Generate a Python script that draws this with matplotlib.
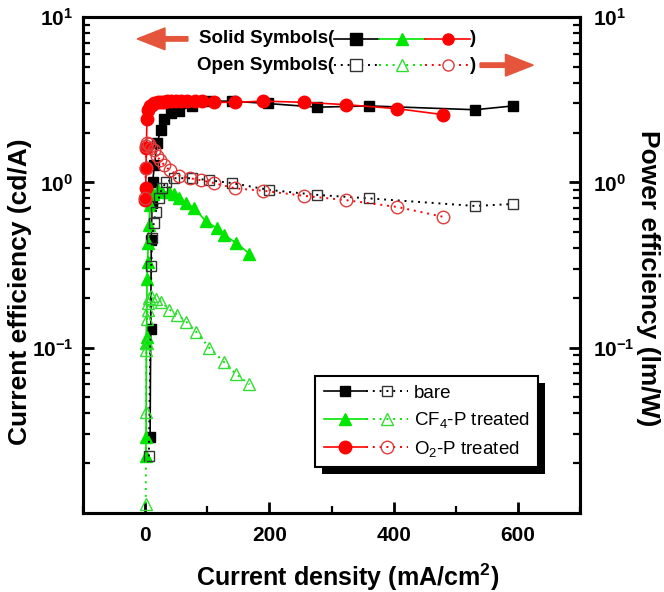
import numpy as np
import matplotlib
matplotlib.use('Agg')
import matplotlib.pyplot as plt
import matplotlib.patheffects as pe
from matplotlib.patches import FancyArrow
from matplotlib.legend_handler import HandlerTuple
from matplotlib.ticker import MultipleLocator, LogLocator, NullFormatter

plt.rcParams['font.family'] = 'Liberation Sans'
plt.rcParams['mathtext.fontset'] = 'custom'
plt.rcParams['mathtext.rm'] = 'Liberation Sans'
plt.rcParams['mathtext.bf'] = 'Liberation Sans:bold'
plt.rcParams['mathtext.it'] = 'Liberation Sans:italic'

# --- data ---
# bare ITO
bare_j_ce = [8, 9, 10, 11, 12, 15, 19, 25, 31, 42, 55, 75, 100, 140, 197, 277, 361, 531, 592]
bare_ce = [0.029, 0.13, 0.45, 0.75, 1.0, 1.27, 1.72, 2.06, 2.43, 2.62, 2.71, 2.9, 3.1, 3.1,
           3.0, 2.85, 2.9, 2.75, 2.9]
bare_j_pe = [6, 10, 11, 14, 17, 22, 27, 34, 47, 76, 103, 140, 200, 277, 361, 531, 592]
bare_pe = [0.022, 0.31, 0.46, 0.57, 0.66, 0.80, 0.92, 1.0, 1.06, 1.06, 1.03, 0.99, 0.90,
           0.84, 0.80, 0.72, 0.74]

# CF4 plasma treated
cf4_j_ce = [1, 1.5, 2, 2.5, 3, 4, 5, 6, 8, 12, 20, 27, 39, 47, 55, 66, 79, 98, 115, 127, 147, 168]
cf4_ce = [0.022, 0.029, 0.107, 0.116, 0.26, 0.33, 0.43, 0.55, 0.73, 0.85, 0.9, 0.88, 0.87,
          0.85, 0.81, 0.75, 0.70, 0.58, 0.53, 0.48, 0.43, 0.37]
cf4_j_pe = [1, 1.5, 2, 2.5, 3, 4, 5, 7, 10, 18, 26, 39, 52, 66, 82, 103, 127, 147, 168]
cf4_pe = [0.0114, 0.041, 0.097, 0.107, 0.15, 0.17, 0.187, 0.20, 0.205, 0.197, 0.19, 0.17,
          0.158, 0.144, 0.125, 0.10, 0.082, 0.069, 0.060]

# O2 plasma treated
o2_j_ce = [0.5, 1, 1.5, 2, 3, 5, 8, 11, 15, 20, 25, 30, 36, 42, 50, 58, 68, 80, 91, 111,
           145, 190, 255, 324, 406, 479]
o2_ce = [0.78, 0.93, 1.23, 1.62, 2.43, 2.75, 2.9, 2.95, 3.0, 3.05, 3.05, 3.08, 3.1, 3.1, 3.1,
         3.1, 3.1, 3.1, 3.1, 3.05, 3.05, 3.1, 3.05, 2.95, 2.79, 2.57]
o2_j_pe = [0.5, 1, 2, 3, 6, 10, 14, 19, 24, 31, 40, 55, 72, 90, 111, 145, 190, 255, 324, 406, 479]
o2_pe = [0.80, 1.23, 1.67, 1.74, 1.70, 1.62, 1.56, 1.45, 1.36, 1.27, 1.18, 1.10, 1.06, 1.03,
         0.99, 0.92, 0.89, 0.83, 0.78, 0.71, 0.62]

labels = ['bare', 'CF$_4$-P treated', 'O$_2$-P treated']

BLACK = 'black'
GREEN = '#00E600'
RED = '#FF0000'
ARROW = '#E4553B'
dot = (0, (1, 2.5))

fig = plt.figure(figsize=(6.64, 5.92), dpi=100)
ax = fig.add_axes([0.125, 0.1334, 0.7485, 0.8378])
ax2 = ax.twinx()

# solid symbols -> current efficiency (left axis)
h1, = ax.plot(bare_j_ce, bare_ce, '-s', color=BLACK, ms=7.5, lw=1.2)
h2, = ax.plot(cf4_j_ce, cf4_ce, '-^', color=GREEN, ms=8.5, lw=1.2)
h3, = ax.plot(o2_j_ce, o2_ce, '-o', color=RED, ms=9, lw=1.2)

# open symbols -> power efficiency (right axis)
g1, = ax2.plot(bare_j_pe, bare_pe, 's', ls=dot, color=BLACK, mec='#333333', mfc='none', ms=7.5, lw=1.4, mew=1)
g2, = ax2.plot(cf4_j_pe, cf4_pe, '^', ls=dot, color=GREEN, mec='#33DD33', mfc='none', ms=8.5, lw=1.4, mew=1)
g3, = ax2.plot(o2_j_pe, o2_pe, 'o', ls=dot, color=RED, mec='#E03A3A', mfc='none', ms=9, lw=1.4, mew=1)

for a in (ax, ax2):
    a.set_yscale('log')
    a.set_ylim(0.01, 10)
    a.set_yticks([0.1, 1, 10])
    a.set_yticklabels([r'$\mathbf{10^{-1}}$', r'$\mathbf{10^{0}}$', r'$\mathbf{10^{1}}$'])
    a.yaxis.set_minor_locator(LogLocator(base=10, subs=np.arange(2, 10)))
    a.yaxis.set_minor_formatter(NullFormatter())
    for s in a.spines.values():
        s.set_linewidth(2.2)

ax.set_xlim(-100, 700)
ax.xaxis.set_minor_locator(MultipleLocator(100))
ax.set_xticks([0, 200, 400, 600])
ax.set_xticklabels(['0', '200', '400', '600'], fontweight='bold')

ax.tick_params(axis='x', which='both', direction='in', top=False, labelsize=15, pad=9)
ax.tick_params(axis='x', which='major', length=8, width=2)
ax.tick_params(axis='x', which='minor', length=5, width=1.6)
ax.tick_params(axis='y', which='both', direction='in', right=False, labelsize=15, pad=7)
ax.tick_params(axis='y', which='major', length=8, width=2)
ax.tick_params(axis='y', which='minor', length=5, width=1.6)
ax2.tick_params(axis='y', which='both', direction='in', left=False, labelsize=15, pad=9)
ax2.tick_params(axis='y', which='major', length=8, width=2)
ax2.tick_params(axis='y', which='minor', length=5, width=1.6)

ax.set_xlabel(r'Current density (mA/cm$^\mathbf{2}$)', fontsize=18, fontweight='bold')
ax.xaxis.label.set_va('center')
ax.xaxis.set_label_coords(0.533, -0.129)
ax.set_ylabel('Current efficiency (cd/A)', fontsize=19, fontweight='bold')
ax.yaxis.label.set_va('center')
ax.yaxis.set_label_coords(-0.127, 0.446)
ax2.set_ylabel('Power efficiency (lm/W)', fontsize=19, fontweight='bold', rotation=-90)
ax2.yaxis.label.set_va('center')
ax2.yaxis.set_label_coords(1.137, 0.474)

# legend with solid + open symbol for each sample
leg = ax2.legend([(h1, g1), (h2, g2), (h3, g3)], labels,
                 handler_map={tuple: HandlerTuple(ndivide=None, pad=0)},
                 loc='upper left', bbox_to_anchor=(0.467, 0.276), borderaxespad=0,
                 fancybox=False, edgecolor='black', framealpha=1, fontsize=13.5,
                 handlelength=4.5, handletextpad=0.3, labelspacing=0.45, borderpad=0.45)
leg.get_frame().set_linewidth(1.5)
leg.get_frame().set_path_effects([pe.SimplePatchShadow(offset=(5, -5), shadow_rgbFace='black', alpha=1),
                                  pe.Normal()])

# symbol key at the top with arrows pointing to the axes
tr = ax2.transAxes
row1, row2 = 0.956, 0.903
ax2.text(0.505, row1, 'Solid Symbols(', transform=tr, ha='right', va='center',
         fontsize=13.5, fontweight='bold')
ax2.text(0.505, row2, 'Open Symbols(', transform=tr, ha='right', va='center',
         fontsize=13.5, fontweight='bold')
seg = [0.505, 0.595, 0.688, 0.779]
key = [(BLACK, 's', '#333333'), (GREEN, '^', '#33DD33'), (RED, 'o', '#E03A3A')]
for i, (c, m, ec) in enumerate(key):
    x0, x1 = seg[i], seg[i + 1]
    ax2.plot([x0, x1], [row1, row1], color=c, lw=1.2, transform=tr, clip_on=False)
    ax2.plot([(x0 + x1) / 2], [row1], marker=m, color=c, ms=8, transform=tr, clip_on=False)
    ax2.plot([x0, x1], [row2, row2], color=c, lw=1.4, ls=dot, transform=tr, clip_on=False)
    ax2.plot([(x0 + x1) / 2], [row2], marker=m, mec=ec, mfc='white', mew=1, ms=8,
             transform=tr, clip_on=False)
ax2.text(0.785, row1, ')', transform=tr, ha='center', va='center', fontsize=13.5, fontweight='bold')
ax2.text(0.785, row2, ')', transform=tr, ha='center', va='center', fontsize=13.5, fontweight='bold')

ax2.add_patch(FancyArrow(0.211, row1, -0.102, 0, width=0.009, head_width=0.044, head_length=0.056,
                         length_includes_head=True, color=ARROW, transform=tr, clip_on=False))
ax2.add_patch(FancyArrow(0.799, row2, 0.107, 0, width=0.009, head_width=0.044, head_length=0.056,
                         length_includes_head=True, color=ARROW, transform=tr, clip_on=False))

fig.savefig('out.png', dpi=100)
